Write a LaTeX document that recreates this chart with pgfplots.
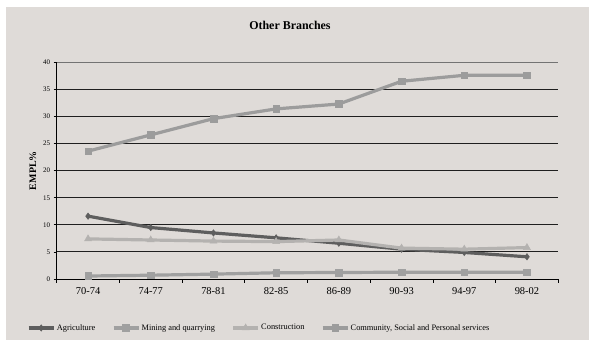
\documentclass[border=0pt]{standalone}
\usepackage{fontspec}
\setmainfont{Liberation Serif}
\usepackage{pgfplots}
\pgfplotsset{compat=1.18}

\definecolor{panel}{HTML}{DFDBD8}
\definecolor{agri}{HTML}{5E5E5E}
\definecolor{mining}{HTML}{A0A0A0}
\definecolor{constr}{HTML}{B4B2B0}
\definecolor{commun}{HTML}{9C9C9C}

\begin{document}
\begin{tikzpicture}
% page and panel
\fill[white] (0,0) rectangle (589bp,340bp);
\fill[panel] (6bp,0) rectangle (589bp,333bp);

\begin{axis}[
  at={(56.7bp,61bp)}, anchor=south west,
  scale only axis, width=501.6bp, height=216.7bp,
  xmin=-0.5, xmax=7.5, ymin=0, ymax=40,
  axis x line=bottom, axis y line=left,
  axis line style={-, black, line width=0.9bp},
  xtick={0,...,7},
  xticklabels={70-74,74-77,78-81,82-85,86-89,90-93,94-97,98-02},
  major x tick style={draw=none},
  minor xtick={-0.5,0.5,...,7.5},
  minor x tick style={black, line width=0.8bp},
  minor tick length=3.5bp,
  ytick={0,5,...,35},
  extra y ticks={40},
  extra y tick style={grid style={color=black!55, line width=1.2bp}},
  major tick length=3bp,
  tick align=outside,
  y tick style={black, line width=0.8bp},
  ymajorgrids,
  grid style={color=black!88, line width=0.9bp},
  /pgf/number format/assume math mode=true,
  xticklabel style={font=\fontsize{10.5}{12}\selectfont, yshift=-2bp},
  yticklabel style={font=\fontsize{7}{8}\selectfont},
  title={Other Branches},
  title style={font=\bfseries\fontsize{12}{14}\selectfont, at={(axis description cs:0.465,1.172)}, anchor=center, yshift=-6pt},
  ylabel={EMPL\%},
  ylabel style={font=\bfseries\fontsize{10}{12}\selectfont, at={(axis description cs:-0.0473,0.5)}, anchor=center, rotate=0},
  legend columns=4,
  legend style={at={(axis description cs:0.4033,-0.226)}, anchor=center,
    draw=none, fill=none, font=\fontsize{8.4}{10}\selectfont,
    /tikz/every even column/.append style={column sep=15bp},
    inner sep=0pt, nodes={inner xsep=1.5bp}},
  legend cell align=left,
  legend image code/.code={%
    \draw[#1, mark repeat=2, mark phase=2] plot coordinates {(0bp,0bp) (12.5bp,0bp) (25bp,0bp)};},
  every axis plot/.append style={line width=3.2bp},
  clip=false,
]
\addplot[agri, mark=diamond*, mark size=3.2bp, mark options={solid, line width=0.5bp}]
  coordinates {(0,11.6) (1,9.5) (2,8.5) (3,7.6) (4,6.6) (5,5.5) (6,4.9) (7,4.1)};
\addplot[mining, mark=square*, mark size=3.3bp, mark options={solid, line width=0.5bp}]
  coordinates {(0,0.55) (1,0.7) (2,0.9) (3,1.15) (4,1.2) (5,1.25) (6,1.25) (7,1.25)};
\addplot[constr, mark=triangle*, mark size=4bp, mark options={solid, line width=0.5bp}]
  coordinates {(0,7.4) (1,7.2) (2,7.0) (3,6.9) (4,7.2) (5,5.7) (6,5.5) (7,5.8)};
\addplot[commun, mark=square*, mark size=3.3bp, mark options={solid, line width=0.5bp}]
  coordinates {(0,23.6) (1,26.6) (2,29.6) (3,31.4) (4,32.3) (5,36.5) (6,37.6) (7,37.6)};
\legend{Agriculture, Mining and quarrying, Construction, {Community, Social and Personal services}}
\end{axis}

\pgfresetboundingbox
\path[use as bounding box] (0,0) rectangle (589bp,340bp);
\end{tikzpicture}
\end{document}
